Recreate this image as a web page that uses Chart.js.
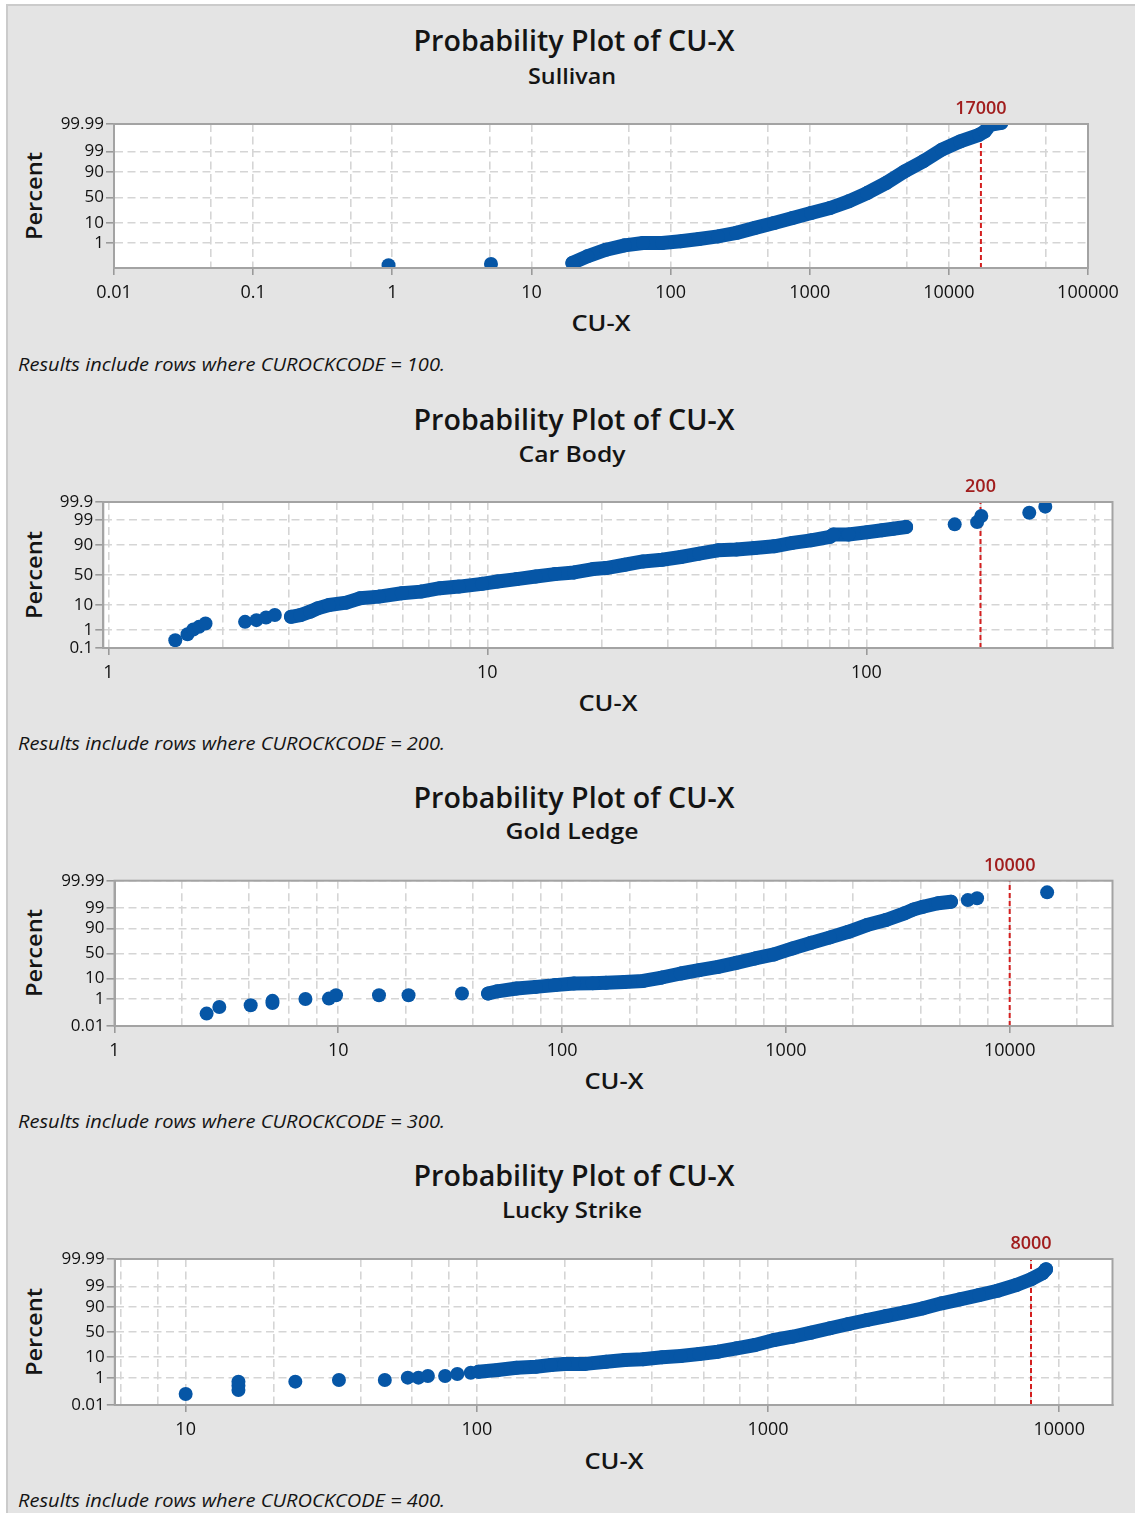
<!DOCTYPE html>
<html><head><meta charset="utf-8">
<script src="https://cdn.jsdelivr.net/npm/chart.js@4.4.1/dist/chart.umd.min.js"></script>
<style>
html,body{margin:0;padding:0;background:#fff;}
#page{position:relative;width:1135px;height:1513px;overflow:hidden;background:#fff;}
#bg{position:absolute;left:6px;top:4px;right:0;bottom:0;background:#e4e4e4;border-left:2px solid #cbcbcb;border-top:2px solid #cbcbcb;}
canvas{position:absolute;left:0;}
</style></head><body><div id="page"><div id="bg"></div></div>
<script>
// ---------------- DATA ----------------
const chartTitle = 'Probability Plot of CU-X';
const subtitles = ['Sullivan', 'Car Body', 'Gold Ledge', 'Lucky Strike'];
const rockCodes = [100, 200, 300, 400];
const refValues = [17000, 200, 10000, 8000];
const refLabels = ['17000', '200', '10000', '8000'];

// Sullivan
const sullivanDotX   = [0.94, 5.12];
const sullivanDotPct = [0.029, 0.037];
const sullivanBandX  = [19.7, 25.2, 34.4, 46.8, 63.4, 86.8, 118, 160, 219, 298, 405, 555, 754, 1023, 1402, 1905, 2587, 3542, 4810, 6535, 8907, 12060, 16490, 18100, 19800, 23800];
const sullivanBandPct= [0.045, 0.14, 0.40, 0.75, 1.04, 1.04, 1.3, 1.75, 2.4, 3.6, 6.1, 9.7, 14.9, 21.5, 29.5, 42, 58.7, 76.7, 90.6, 96.6, 99.22, 99.77, 99.924, 99.958, 99.988, 99.992];

// Car Body
const carBodyDotX   = [1.502, 1.618, 1.676, 1.735, 1.805, 2.295, 2.459, 2.607, 2.75, 171, 196, 201, 269, 296.5];
const carBodyDotPct = [0.287, 0.61, 1.06, 1.41, 2.0, 2.37, 2.8, 3.6, 4.5, 98.4, 98.74, 99.37, 99.58, 99.81];
const carBodyBandX  = [3.033, 3.213, 3.405, 3.566, 3.823, 4.246, 4.607, 5.176, 5.948, 6.683, 7.50, 8.42, 9.68, 10.64, 11.95, 13.42, 15.08, 16.94, 19.0, 20.56, 23.03, 25.74, 28.9, 32.4, 36.2, 40.6, 45.4, 50.8, 57.1, 63.8, 71.4, 80.2, 81.9, 89.7, 100.4, 110, 117.6, 127.3];
const carBodyBandPct= [3.85, 4.5, 6.0, 7.9, 10.2, 12.1, 16.2, 18.0, 22.0, 24.1, 28.8, 31.2, 35.4, 39.1, 43.1, 47.4, 51.5, 54.3, 59.9, 61.6, 66.8, 71.7, 74.1, 77.7, 81.7, 85.2, 85.9, 87.4, 88.8, 91.3, 92.9, 94.7, 95.7, 95.7, 96.5, 97.1, 97.5, 97.9];

// Gold Ledge
const goldDotX   = [2.58, 2.94, 4.06, 5.08, 5.08, 7.13, 9.08, 9.77, 15.2, 20.6, 35.7, 6500, 7150, 14700];
const goldDotPct = [0.102, 0.30, 0.39, 0.55, 0.75, 0.98, 1.03, 1.6, 1.6, 1.6, 1.98, 99.68, 99.76, 99.91];
const goldBandX  = [46.7, 51.4, 62.6, 76.3, 93, 113, 137, 157, 190, 230, 279, 339, 409, 498, 601, 728, 885, 1071, 1295, 1575, 1904, 2303, 2800, 3388, 3725, 4100, 4785, 5470];
const goldBandPct= [1.98, 2.6, 3.6, 4.3, 5.2, 6.1, 6.3, 6.6, 7.2, 7.9, 10.8, 15.1, 19.4, 24.4, 31.3, 39.7, 47.8, 59.9, 70.5, 79.3, 86.5, 92.6, 95.6, 97.97, 98.78, 99.15, 99.48, 99.59];

// Lucky Strike
const luckyDotX   = [10, 15.18, 15.18, 15.18, 23.8, 33.6, 48.3, 57.9, 63, 67.9, 77.8, 85.7, 95.3];
const luckyDotPct = [0.079, 0.156, 0.31, 0.57, 0.57, 0.72, 0.72, 1.0, 1.0, 1.25, 1.25, 1.62, 1.9];
const luckyBandX  = [101.3, 117.8, 137, 159.5, 179.8, 200, 236, 277.8, 322, 372, 433, 501, 580, 673, 780, 902, 1049, 1213, 1405, 1633, 1890, 2188, 2543, 2943, 3406, 3949, 4563, 5304, 6141, 7125, 8000, 8756, 9010];
const luckyBandPct= [2.16, 2.64, 3.45, 3.85, 4.6, 5.2, 5.2, 6.5, 7.7, 8.2, 9.9, 11.1, 13.1, 15.8, 20.3, 25.4, 34.2, 40.5, 48.6, 57.5, 65.8, 72.9, 79.2, 84.2, 88.6, 92.8, 95.2, 97.0, 98.23, 99.17, 99.64, 99.86, 99.93];

// Tick labels
const yTicks1 = [99.99, 99, 90, 50, 10, 1];
const yTicks2 = [99.9, 99, 90, 50, 10, 1, 0.1];
const yTicks3 = [99.99, 99, 90, 50, 10, 1, 0.01];
const yTicks4 = [99.99, 99, 90, 50, 10, 1, 0.01];
const xLabels1 = [0.01, 0.1, 1, 10, 100, 1000, 10000, 100000];
const xLabels2 = [1, 10, 100];
const xLabels3 = [1, 10, 100, 1000, 10000];
const xLabels4 = [10, 100, 1000, 10000];
const xGridMult1 = [1, 5];
const xGridMult2 = [1, 2, 3, 4, 5, 6, 7, 8, 9];
const xGridMult3 = [1, 2, 4, 6, 8];
const xGridMult4 = [1, 2, 4, 6, 8];
// axis ranges
const xRange1 = [0.01, 100000], yRange1 = [0.0172, 99.99];
const xRange2 = [0.97, 446],    yRange2 = [0.1, 99.9];
const xRange3 = [1, 28800],     yRange3 = [0.01, 99.99];
const xRange4 = [5.71, 15240],  yRange4 = [0.01, 99.99];

// ---------------- RENDERING ----------------
const BLUE = '#0656a6';
const FONT = "'Open Sans', 'Noto Sans', sans-serif";
const page = document.getElementById('page');

function probit(p){
  const a=[-3.969683028665376e+01,2.209460984245205e+02,-2.759285104469687e+02,1.383577518672690e+02,-3.066479806614716e+01,2.506628277459239e+00];
  const b=[-5.447609879822406e+01,1.615858368580409e+02,-1.556989798598866e+02,6.680131188771972e+01,-1.328068155288572e+01];
  const c=[-7.784894002430293e-03,-3.223964580411365e-01,-2.400758277161838e+00,-2.549732539343734e+00,4.374664141464968e+00,2.938163982698783e+00];
  const d=[7.784695709041462e-03,3.224671290700398e-01,2.445134137142996e+00,3.754408661907416e+00];
  const pl=0.02425, ph=1-pl; let q,r;
  if(p<pl){q=Math.sqrt(-2*Math.log(p));return (((((c[0]*q+c[1])*q+c[2])*q+c[3])*q+c[4])*q+c[5])/((((d[0]*q+d[1])*q+d[2])*q+d[3])*q+1);}
  if(p<=ph){q=p-0.5;r=q*q;return (((((a[0]*r+a[1])*r+a[2])*r+a[3])*r+a[4])*r+a[5])*q/(((((b[0]*r+b[1])*r+b[2])*r+b[3])*r+b[4])*r+1);}
  q=Math.sqrt(-2*Math.log(1-p));return -(((((c[0]*q+c[1])*q+c[2])*q+c[3])*q+c[4])*q+c[5])/((((d[0]*q+d[1])*q+d[2])*q+d[3])*q+1);
}
const z = pct => probit(pct/100);

function addText(txt, x, y, o){
  const el=document.createElement('div');
  el.textContent=txt;
  el.style.cssText=`position:absolute;white-space:nowrap;font-family:${FONT};font-size:${o.size}px;font-weight:${o.weight||400};font-style:${o.italic?'italic':'normal'};color:${o.color||'#141414'};line-height:1;left:${x}px;top:${y}px;`;
  page.appendChild(el);
  const w=el.getBoundingClientRect().width;
  const s=o.w? o.w/w : 1;
  if(o.anchor==='left'){el.style.transformOrigin='0 50%';el.style.transform=`translate(0,-50%) scaleX(${s})`;}
  else el.style.transform=`translate(-50%,-50%)${o.rot?' rotate(-90deg)':''} scaleX(${s})`;
}

const panels = [
  {sub:0, bandX:sullivanBandX, bandP:sullivanBandPct, dotX:sullivanDotX, dotP:sullivanDotPct, yT:yTicks1, xL:xLabels1, xM:xGridMult1, xR:xRange1, yR:yRange1,
   L:{title:40, subY:75, top:124, bottom:268.3, left:114, right:1088, xt:322, note:365, subW:88}},
  {sub:1, bandX:carBodyBandX, bandP:carBodyBandPct, dotX:carBodyDotX, dotP:carBodyDotPct, yT:yTicks2, xL:xLabels2, xM:xGridMult2, xR:xRange2, yR:yRange2,
   L:{title:419, subY:453, top:502, bottom:648, left:103.3, right:1112.5, xt:702, note:744, subW:107}},
  {sub:2, bandX:goldBandX, bandP:goldBandPct, dotX:goldDotX, dotP:goldDotPct, yT:yTicks3, xL:xLabels3, xM:xGridMult3, xR:xRange3, yR:yRange3,
   L:{title:797, subY:830, top:880.7, bottom:1025.7, left:114.5, right:1112.5, xt:1080, note:1122, subW:133}},
  {sub:3, bandX:luckyBandX, bandP:luckyBandPct, dotX:luckyDotX, dotP:luckyDotPct, yT:yTicks4, xL:xLabels4, xM:xGridMult4, xR:xRange4, yR:yRange4,
   L:{title:1175, subY:1209, top:1259, bottom:1405, left:114.8, right:1112.5, xt:1460, note:1501, subW:140}}
];

const PADTOP = 36, XAXH = 40;

panels.forEach((P, i) => {
  const L = P.L;
  addText(chartTitle, 573.5, L.title, {size:28, weight:600, w:321});
  addText(subtitles[P.sub], 572, L.subY, {size:22, weight:600, w:L.subW});
  addText('Percent', 33, (L.top+L.bottom)/2, {size:22, weight:600, w:88, rot:true});
  addText('CU-X', (L.left+L.right)/2, L.xt, {size:22, weight:600, w:59});
  addText('Results include rows where CUROCKCODE = ' + rockCodes[i] + '.', 18, L.note, {size:17.5, italic:true, w:427, anchor:'left'});

  const plotH = L.bottom - L.top;
  const cTop = Math.round(L.top - PADTOP);
  const padTop = L.top - cTop;
  const cH = Math.round(padTop + plotH + XAXH);
  const cv = document.createElement('canvas');
  cv.width = 1135; cv.height = cH;
  cv.style.top = cTop + 'px'; cv.style.width='1135px'; cv.style.height = cH + 'px';
  page.appendChild(cv);

  const gridVals = [];
  const d0 = Math.floor(Math.log10(P.xR[0])) , d1 = Math.ceil(Math.log10(P.xR[1]));
  for (let d = d0; d <= d1; d++) P.xM.forEach(m => {
    const v = m * Math.pow(10, d);
    if (v >= P.xR[0]*0.9999 && v <= P.xR[1]*1.0001) gridVals.push(v);
  });
  const isLab = v => P.xL.findIndex(l => Math.abs(Math.log10(l) - Math.log10(v)) < 1e-6);

  const ref = refValues[i], refLab = refLabels[i];
  const plug = {
    id:'deco'+i,
    beforeDraw(ch){const a=ch.chartArea;const c=ch.ctx;c.save();c.fillStyle='#fff';c.fillRect(a.left,a.top,a.right-a.left,a.bottom-a.top);c.restore();},
    beforeDatasetsDraw(ch){
      const a=ch.chartArea,c=ch.ctx,x=ch.scales.x.getPixelForValue(ref);
      c.save();c.strokeStyle='#d41f1f';c.lineWidth=2;c.setLineDash([5,3]);
      c.beginPath();c.moveTo(x,a.bottom);c.lineTo(x,a.top);c.stroke();c.restore();
    },
    afterDatasetsDraw(ch){
      const a=ch.chartArea,c=ch.ctx,x=ch.scales.x.getPixelForValue(ref);
      c.save();c.strokeStyle='#a3a3a3';c.lineWidth=2;c.strokeRect(a.left,a.top,a.right-a.left,a.bottom-a.top);
      c.fillStyle='#a11d1d';c.font=`600 18px ${FONT}`;c.textAlign='center';c.textBaseline='middle';
      c.fillText(refLab,x,a.top-15);c.restore();
    }
  };

  new Chart(cv, {
    type:'scatter',
    data:{datasets:[
      {data:P.bandX.map((x,k)=>({x, y:z(P.bandP[k])})), showLine:true, borderColor:BLUE, backgroundColor:BLUE, borderWidth:14,
       borderCapStyle:'round', borderJoinStyle:'round', pointRadius:7, pointBorderWidth:0, pointHoverRadius:7, clip:0},
      {data:P.dotX.map((x,k)=>({x, y:z(P.dotP[k])})), showLine:false, backgroundColor:BLUE, borderColor:BLUE,
       pointRadius:7, pointBorderWidth:0, pointHoverRadius:7, clip:0}
    ]},
    options:{
      responsive:false, animation:false, devicePixelRatio:1,
      events:[],
      layout:{autoPadding:false, padding:{top:padTop, right:1135-L.right, left:0, bottom:0}},
      plugins:{legend:{display:false}, tooltip:{enabled:false}},
      scales:{
        x:{type:'logarithmic', min:P.xR[0], max:P.xR[1], bounds:'data',
           afterFit(s){s.height = XAXH;},
           afterBuildTicks(s){s.ticks = gridVals.map(v=>({value:v}));},
           ticks:{autoSkip:false, maxRotation:0, minRotation:0, padding:7, color:'#111', font:{family:FONT, size:18},
                  callback(v){const k=isLab(v);return k>=0 ? String(P.xL[k]) : '';}},
           grid:{color:'#d5d5d5', lineWidth:1.6, tickLength:7, tickWidth:1.6,
                 tickColor:(c)=> (c.tick && isLab(c.tick.value)>=0) ? '#9a9a9a' : 'rgba(0,0,0,0)'},
           border:{display:true, color:'#a3a3a3', width:2, dash:[8,4.5]}
        },
        y:{type:'linear', min:z(P.yR[0]), max:z(P.yR[1]), bounds:'data',
           afterFit(s){s.width = L.left;},
           afterBuildTicks(s){s.ticks = P.yT.map(p=>({value:z(p)}));},
           ticks:{autoSkip:false, padding:2, color:'#111', font:{family:FONT, size:17},
                  callback(v,k){return String(P.yT[k]);}},
           grid:{color:'#d5d5d5', lineWidth:1.6, tickLength:8, tickWidth:1.6, tickColor:'#9a9a9a'},
           border:{display:true, color:'#a3a3a3', width:2, dash:[8,4.5]}
        }
      }
    },
    plugins:[plug]
  });
});
</script>
</body></html>
